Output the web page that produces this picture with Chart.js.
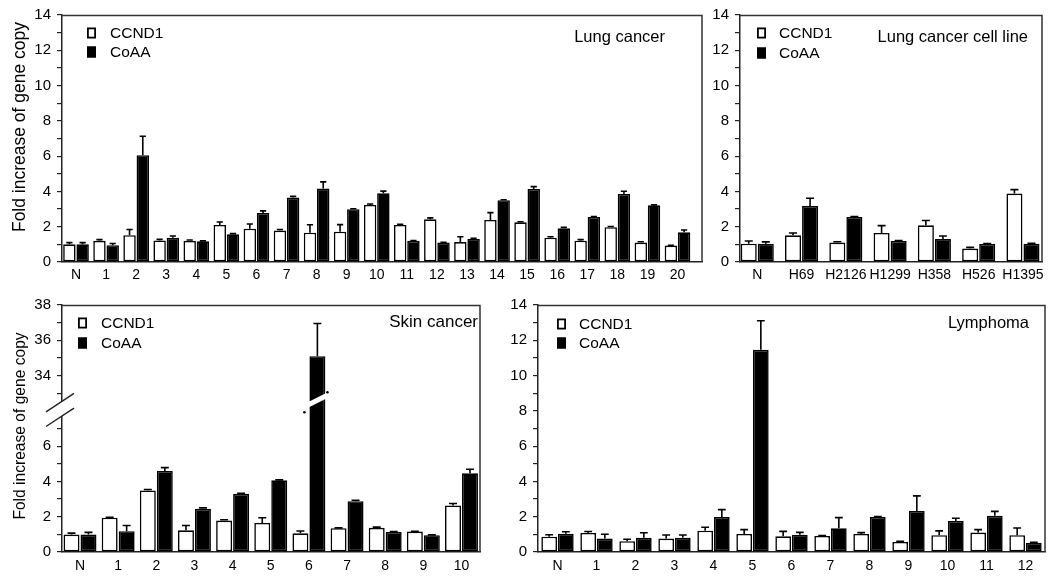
<!DOCTYPE html>
<html><head><meta charset="utf-8">
<script src="https://cdn.jsdelivr.net/npm/chart.js@4.4.1/dist/chart.umd.min.js"></script>
<style>
html,body{margin:0;padding:0;background:#fff;}
#wrap{position:relative;width:1050px;height:579px;overflow:hidden;background:#fff;}
canvas{position:absolute;left:0;top:0;}
</style></head><body>
<div id="wrap">
<canvas id="c1" width="1050" height="579"></canvas>
<canvas id="c2" width="1050" height="579"></canvas>
<canvas id="c3" width="1050" height="579"></canvas>
<canvas id="c4" width="1050" height="579"></canvas>
</div>
<script>
// ---------- data ----------
const seriesNames = ['CCND1', 'CoAA'];
const yTitle = 'Fold increase of gene copy';

const lungLabels = ['N','1','2','3','4','5','6','7','8','9','10','11','12','13','14','15','16','17','18','19','20'];
const lungCCND1    = [1.00,1.20,1.52,1.22,1.20,2.10,1.89,1.78,1.66,1.72,3.23,2.10,2.42,1.13,2.38,2.25,1.38,1.21,1.97,1.10,0.93];
const lungCCND1Err = [0.10,0.07,0.32,0.06,0.05,0.17,0.26,0.06,0.45,0.40,0.06,0.04,0.08,0.30,0.42,0.03,0.05,0.06,0.04,0.05,0.02];
const lungCoAA     = [1.00,0.95,6.05,1.38,1.17,1.57,2.78,3.65,4.16,2.99,3.89,1.20,1.10,1.30,3.50,4.14,1.91,2.55,3.86,3.21,1.68];
const lungCoAAErr  = [0.10,0.10,1.08,0.09,0.03,0.04,0.12,0.07,0.38,0.03,0.13,0.02,0.02,0.05,0.03,0.13,0.05,0.03,0.15,0.03,0.13];

const cellLabels = ['N','H69','H2126','H1299','H358','H526','H1395'];
const cellCCND1    = [1.04,1.51,1.10,1.65,2.08,0.76,3.88];
const cellCCND1Err = [0.15,0.13,0.05,0.41,0.27,0.07,0.22];
const cellCoAA     = [1.04,3.18,2.55,1.19,1.30,1.02,1.04];
const cellCoAAErr  = [0.10,0.43,0.03,0.02,0.17,0.03,0.02];

const skinLabels = ['N','1','2','3','4','5','6','7','8','9','10'];
const skinCCND1    = [0.99,1.94,3.49,1.23,1.78,1.65,1.06,1.35,1.37,1.16,2.64];
const skinCCND1Err = [0.08,0.02,0.05,0.27,0.05,0.29,0.13,0.02,0.04,0.02,0.11];
const skinCoAA     = [0.99,1.18,4.59,2.45,3.30,4.06,35.1,2.88,1.14,0.95,4.46];
const skinCoAAErr  = [0.12,0.32,0.19,0.05,0.03,0.03,1.85,0.05,0.02,0.02,0.23];
const skinTicks    = [0,1,2,3,4,5,6,7,33,34,35,36,37,38];

const lymphLabels = ['N','1','2','3','4','5','6','7','8','9','10','11','12'];
const lymphCCND1    = [0.87,1.08,0.61,0.76,1.21,1.02,0.89,0.91,1.02,0.57,0.95,1.10,0.95];
const lymphCCND1Err = [0.11,0.08,0.11,0.20,0.19,0.25,0.28,0.02,0.08,0.04,0.25,0.17,0.41];
const lymphCoAA     = [1.04,0.76,0.81,0.81,1.99,11.46,0.98,1.34,1.99,2.33,1.76,2.05,0.53];
const lymphCoAAErr  = [0.11,0.25,0.28,0.15,0.41,1.65,0.13,0.61,0.02,0.85,0.15,0.25,0.02];

// ---------- helpers ----------
const FONT = "'Liberation Sans', Arial, Helvetica, sans-serif";
const INK = '#000';
const identity = v => v;
// broken axis for skin panel: values above the break are shifted down by 24
const skinDisp = v => (v >= 30 ? v - 24 : v);
const skinInv = d => (d > 8 ? d + 24 : d);

const panelPlugin = {
  id: 'panel',
  afterDatasetsDraw(chart, args, o) {
    const ctx = chart.ctx, a = chart.chartArea, ys = chart.scales.y;
    const disp = o.disp || identity;
    ctx.save();
    // error bars
    ctx.strokeStyle = '#000';
    ctx.lineWidth = 1.6;
    chart.data.datasets.forEach((ds, di) => {
      const meta = chart.getDatasetMeta(di);
      meta.data.forEach((el, i) => {
        const e = ds.err[i];
        if (!e) return;
        const yTop = ys.getPixelForValue(disp(ds.raw[i] + e));
        const half = el.width * 0.25;
        ctx.beginPath();
        ctx.moveTo(el.x, el.y); ctx.lineTo(el.x, yTop);
        ctx.moveTo(el.x - half, yTop); ctx.lineTo(el.x + half, yTop);
        ctx.stroke();
      });
    });
    // frame (top + right)
    ctx.strokeStyle = '#333';
    ctx.lineWidth = 1.5;
    ctx.beginPath();
    ctx.moveTo(a.left, a.top + 0.5); ctx.lineTo(a.right, a.top + 0.5); ctx.lineTo(a.right, a.bottom);
    ctx.stroke();

    // broken axis (skin)
    if (o.brk) {
      const yHi = ys.getPixelForValue(o.brk.axisHi), yLo = ys.getPixelForValue(o.brk.axisLo);
      ctx.fillStyle = '#fff';
      ctx.fillRect(a.left - 2, yHi, 4, yLo - yHi);
      ctx.strokeStyle = '#222'; ctx.lineWidth = 1.4;
      [yHi, yLo].forEach(yy => {
        ctx.beginPath();
        ctx.moveTo(a.left - 16, yy + 16 * 0.66);
        ctx.lineTo(a.left + 12, yy - 12 * 0.66);
        ctx.stroke();
      });
      const el = chart.getDatasetMeta(o.brk.dataset).data[o.brk.index];
      const yc = ys.getPixelForValue(o.brk.barAt);
      ctx.strokeStyle = '#fff'; ctx.lineWidth = 5;
      ctx.beginPath();
      ctx.moveTo(el.x - 18, yc + 9); ctx.lineTo(el.x + 16, yc - 8);
      ctx.stroke();
      ctx.fillStyle = '#000';
      ctx.beginPath(); ctx.arc(el.x + 10, yc - 8, 1.3, 0, Math.PI * 2); ctx.fill();
      ctx.beginPath(); ctx.arc(el.x - 13, yc + 12, 1.3, 0, Math.PI * 2); ctx.fill();
    }

    // legend
    const L = o.legend;
    ctx.font = L.size + 'px ' + FONT;
    ctx.textBaseline = 'middle';
    ctx.textAlign = 'left';
    chart.data.datasets.forEach((ds, di) => {
      const cy = a.top + L.dy + di * L.gap;
      const bx = a.left + L.dx;
      ctx.fillStyle = ds.backgroundColor;
      ctx.fillRect(bx, cy - 5.5, 9, 11);
      ctx.strokeStyle = '#000'; ctx.lineWidth = 1.8;
      ctx.strokeRect(bx + 0.9, cy - 4.6, 7.2, 9.2);
      ctx.fillStyle = INK;
      ctx.fillText(ds.label, bx + L.tx, cy + 0.5);
    });

    // panel title
    const T = o.title;
    ctx.font = T.size + 'px ' + FONT;
    ctx.textAlign = 'right';
    ctx.fillStyle = INK;
    ctx.fillText(T.text, a.right - T.dx, a.top + T.dy);

    // y-axis title
    if (o.yTitle) {
      const Y = o.yTitle;
      ctx.save();
      ctx.translate(Y.x, Y.y);
      ctx.rotate(-Math.PI / 2);
      ctx.font = Y.size + 'px ' + FONT;
      ctx.textAlign = 'center';
      ctx.textBaseline = 'middle';
      ctx.fillStyle = INK;
      ctx.fillText(yTitle, 0, 0);
      ctx.restore();
    }
    ctx.restore();
  }
};

function makePanel(id, cfg) {
  const disp = cfg.disp || identity;
  const area = cfg.area;
  const mkDs = (label, vals, errs, color) => ({
    label, raw: vals, err: errs,
    data: vals.map((v, i) => ({ x: i, y: disp(v) })),
    backgroundColor: color,
    borderColor: '#000',
    borderWidth: 1.6,
    borderSkipped: false,
    categoryPercentage: cfg.cat,
    barPercentage: 0.94
  });
  const yScale = {
    type: 'linear', min: 0, max: 14,
    afterFit: s => { s.width = 50; },
    border: { display: true, color: '#222', width: 1.5 },
    grid: { display: true, drawOnChartArea: false, drawTicks: true, tickLength: 5, color: '#222', lineWidth: 1.2 },
    ticks: {
      stepSize: 1, autoSkip: false, padding: 6, color: INK,
      font: { family: FONT, size: 15 },
      callback: v => (v % 2 === 0 ? String(v) : '')
    }
  };
  if (cfg.yTicks) {
    yScale.afterBuildTicks = s => { s.ticks = cfg.yTicks.map(v => ({ value: disp(v) })); };
    yScale.ticks.callback = d => { const v = skinInv(d); return v % 2 === 0 ? String(v) : ''; };
  }
  new Chart(document.getElementById(id), {
    type: 'bar',
    data: {
      datasets: [
        mkDs(seriesNames[0], cfg.a, cfg.aErr, '#ffffff'),
        mkDs(seriesNames[1], cfg.b, cfg.bErr, '#000000')
      ]
    },
    options: {
      responsive: false, animation: false, devicePixelRatio: 1,
      events: [],
      layout: { padding: { left: area.left - 50, top: area.top, right: 1050 - area.right, bottom: 579 - area.bottom - 30 } },
      scales: {
        x: {
          type: 'linear', min: cfg.xmin, max: cfg.xmax, offset: false,
          afterFit: s => { s.height = 30; },
          afterBuildTicks: s => { s.ticks = cfg.labels.map((_, i) => ({ value: i })); },
          border: { display: true, color: '#222', width: 1.5 },
          grid: { display: false, drawTicks: false, tickLength: 0 },
          ticks: {
            autoSkip: false, maxRotation: 0, padding: cfg.xpad, color: INK,
            font: { family: FONT, size: 14 },
            callback: v => cfg.labels[v] ?? ''
          }
        },
        y: yScale
      },
      plugins: {
        legend: { display: false },
        tooltip: { enabled: false },
        panel: {
          disp, legend: cfg.legend, title: cfg.title, yTitle: cfg.yTitle, brk: cfg.brk
        }
      }
    },
    plugins: [panelPlugin]
  });
}

makePanel('c1', {
  labels: lungLabels, a: lungCCND1, aErr: lungCCND1Err, b: lungCoAA, bErr: lungCoAAErr,
  area: { left: 62, top: 15, right: 702, bottom: 262 }, xmin: -0.466, xmax: 20.815, cat: 0.88, xpad: 5,
  legend: { dx: 25, dy: 18, gap: 19, tx: 23, size: 15.5 },
  title: { text: 'Lung cancer', dx: 37, dy: 22, size: 16.5 },
  yTitle: { x: 20, y: 127, size: 17.5 }
});
makePanel('c2', {
  labels: cellLabels, a: cellCCND1, aErr: cellCCND1Err, b: cellCoAA, bErr: cellCoAAErr,
  area: { left: 740, top: 15, right: 1042, bottom: 262 }, xmin: -0.39, xmax: 6.43, cat: 0.77, xpad: 5,
  legend: { dx: 17, dy: 18, gap: 20, tx: 22, size: 15.5 },
  title: { text: 'Lung cancer cell line', dx: 14, dy: 22, size: 16.5 }
});
makePanel('c3', {
  labels: skinLabels, a: skinCCND1, aErr: skinCCND1Err, b: skinCoAA, bErr: skinCoAAErr,
  area: { left: 62, top: 305, right: 480, bottom: 552 }, xmin: -0.472, xmax: 10.485, cat: 0.89, xpad: 6,
  disp: skinDisp, yTicks: skinTicks,
  brk: { axisHi: 8.54, axisLo: 7.71, barAt: 8.6, dataset: 1, index: 6 },
  legend: { dx: 16, dy: 18, gap: 20, tx: 23, size: 15.5 },
  title: { text: 'Skin cancer', dx: 2, dy: 17, size: 17 },
  yTitle: { x: 21, y: 426, size: 15.6 }
});
makePanel('c4', {
  labels: lymphLabels, a: lymphCCND1, aErr: lymphCCND1Err, b: lymphCoAA, bErr: lymphCoAAErr,
  area: { left: 538, top: 305, right: 1045, bottom: 552 }, xmin: -0.5, xmax: 12.5, cat: 0.855, xpad: 6,
  legend: { dx: 19, dy: 19, gap: 19, tx: 22, size: 15.5 },
  title: { text: 'Lymphoma', dx: 16, dy: 18, size: 16.5 }
});
</script>
</body></html>
